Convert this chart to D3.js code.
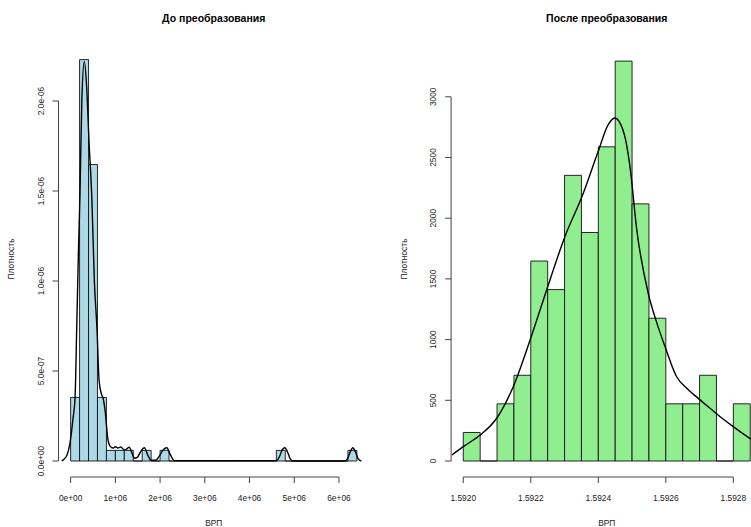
<!DOCTYPE html>
<html>
<head>
<meta charset="utf-8">
<script src="https://cdn.jsdelivr.net/npm/d3@7/dist/d3.min.js"></script>
<style>
  html, body { margin: 0; padding: 0; background: #fff; }
  svg { display: block; font-family: "Liberation Sans", Arial, sans-serif; }
  .tick-label { font-size: 8.4px; fill: #222; }
  .title { font-size: 10.5px; font-weight: bold; fill: #000; }
  .axis-title { font-size: 8.4px; fill: #222; }
</style>
</head>
<body>
<svg id="chart" width="751" height="527"></svg>
<script>
// --- left panel: raw values (ВРП), bin width 2e5 ---
const leftBinStart = 0;
const leftBinWidth = 200000;
const leftDensity = [
  0.353e-6, 2.23e-6, 1.647e-6, 0.353e-6, 0.059e-6, 0.059e-6, 0.059e-6, 0,
  0.059e-6, 0, 0.059e-6, 0, 0, 0, 0, 0,
  0, 0, 0, 0, 0, 0, 0, 0.059e-6,
  0, 0, 0, 0, 0, 0, 0, 0.059e-6
];
// density curve: [x, density]
const leftCurveX = [
  -200000, -150000, -80000, -15000, 50000, 100000, 135000, 175000, 210000, 250000,
  305000, 355000, 410000, 475000, 530000, 590000, 635000, 690000, 725000, 770000,
  835000, 880000, 950000, 1000000, 1060000, 1120000, 1200000, 1250000, 1310000, 1370000,
  1430000, 1490000, 1560000, 1647000, 1730000, 1800000, 1900000, 1990000, 2070000, 2150000,
  2230000, 2320000, 4600000, 4670000, 4730000, 4790000, 4850000, 4910000, 4980000, 6120000,
  6190000, 6250000, 6310000, 6370000, 6430000, 6500000
];
const leftCurveY = [
  0, 0.01e-6, 0.033e-6, 0.10e-6, 0.23e-6, 0.36e-6, 0.73e-6, 1.17e-6, 1.5e-6, 2.0e-6,
  2.22e-6, 2.09e-6, 1.78e-6, 1.45e-6, 1.0e-6, 0.73e-6, 0.45e-6, 0.37e-6, 0.35e-6, 0.28e-6,
  0.117e-6, 0.083e-6, 0.072e-6, 0.079e-6, 0.072e-6, 0.078e-6, 0.062e-6, 0.066e-6, 0.077e-6, 0.045e-6,
  0.015e-6, 0.02e-6, 0.05e-6, 0.074e-6, 0.03e-6, 0.004e-6, 0.004e-6, 0.03e-6, 0.062e-6, 0.074e-6,
  0.035e-6, 0.002e-6, 0.002e-6, 0.025e-6, 0.062e-6, 0.074e-6, 0.05e-6, 0.012e-6, 0, 0,
  0.012e-6, 0.05e-6, 0.074e-6, 0.05e-6, 0.012e-6, 0
];
const leftXTicks = [0, 1e6, 2e6, 3e6, 4e6, 5e6, 6e6];
const leftXLabels = ["0e+00", "1e+06", "2e+06", "3e+06", "4e+06", "5e+06", "6e+06"];
const leftYTicks = [0, 0.5e-6, 1.0e-6, 1.5e-6, 2.0e-6];
const leftYLabels = ["0.0e+00", "5.0e-07", "1.0e-06", "1.5e-06", "2.0e-06"];

// --- right panel: transformed values, bin width 0.00005 ---
const rightBinStart = 1.5920;
const rightBinWidth = 0.00005;
const rightDensity = [
  235, 0, 471, 706, 1647, 1412, 2353, 1882, 2588, 3294, 2118, 1176, 471, 471, 706, 0, 471
];
const rightCurveX = [
  1.591966, 1.5920, 1.59205, 1.592099, 1.592148, 1.592198, 1.592247, 1.592301, 1.592352, 1.592399,
  1.592429, 1.592449, 1.592476, 1.592494, 1.592514, 1.592548, 1.592573, 1.592598, 1.592632, 1.592662,
  1.592696, 1.592731, 1.592761, 1.5928, 1.592849, 1.592884
];
const rightCurveY = [
  49, 118, 214, 352, 612, 997, 1409, 1848, 2180, 2545,
  2768, 2825, 2700, 2420, 1903, 1380, 1140, 940, 694, 599,
  516, 434, 365, 283, 187, 130
];
const rightXTicks = [1.5920, 1.5922, 1.5924, 1.5926, 1.5928];
const rightXLabels = ["1.5920", "1.5922", "1.5924", "1.5926", "1.5928"];
const rightYTicks = [0, 500, 1000, 1500, 2000, 2500, 3000];
const rightYLabels = ["0", "500", "1000", "1500", "2000", "2500", "3000"];

const svg = d3.select("#chart");

function drawPanel(o) {
  const g = svg.append("g");
  const x = d3.scaleLinear().domain(o.xDomain).range(o.xRange);
  const y = d3.scaleLinear().domain([0, o.yTicks[o.yTicks.length - 1]]).range([461, o.yTop]);
  const plotBottom = 477;
  const plotTop = 40;
  const clipId = "clip-" + o.id;
  svg.append("clipPath").attr("id", clipId).append("rect")
    .attr("x", o.xRange[0]).attr("y", plotTop)
    .attr("width", o.xRange[1] - o.xRange[0]).attr("height", plotBottom - plotTop);

  // bars (paths so empty bins still draw their base line)
  g.append("g").selectAll("path").data(o.density).enter().append("path")
    .attr("d", function (d, i) {
      const x0 = x(o.binStart + i * o.binWidth), x1 = x(o.binStart + (i + 1) * o.binWidth);
      const y0 = y(0), y1 = y(d);
      return "M" + x0 + "," + y0 + "V" + y1 + "H" + x1 + "V" + y0 + "Z";
    })
    .attr("fill", o.fill).attr("stroke", "#111").attr("stroke-width", 0.9);

  // density curve
  const pts = o.curveX.map(function (v, i) { return [v, o.curveY[i]]; });
  const line = d3.line().x(function (d) { return x(d[0]); }).y(function (d) { return y(d[1]); })
    .curve(d3.curveMonotoneX);
  g.append("path").datum(pts).attr("d", line).attr("clip-path", "url(#" + clipId + ")")
    .attr("fill", "none").attr("stroke", "#000").attr("stroke-width", 1.4);

  // x axis (R style)
  const ax = o.xTicks;
  const ay = plotBottom;
  g.append("line").attr("x1", x(ax[0])).attr("x2", x(ax[ax.length - 1]))
    .attr("y1", ay).attr("y2", ay).attr("stroke", "#444");
  g.selectAll(".xt").data(ax).enter().append("line")
    .attr("x1", function (d) { return x(d); }).attr("x2", function (d) { return x(d); })
    .attr("y1", ay).attr("y2", ay + 6).attr("stroke", "#444");
  g.selectAll(".xl").data(ax).enter().append("text").attr("class", "tick-label")
    .attr("x", function (d) { return x(d); }).attr("y", 501)
    .attr("text-anchor", "middle").text(function (d, i) { return o.xLabels[i]; });

  // y axis
  const yx = o.xRange[0] - 0.7;
  const yt = o.yTicks;
  g.append("line").attr("x1", yx).attr("x2", yx)
    .attr("y1", y(yt[0])).attr("y2", y(yt[yt.length - 1])).attr("stroke", "#444");
  g.selectAll(".yt").data(yt).enter().append("line")
    .attr("x1", yx - 6).attr("x2", yx)
    .attr("y1", function (d) { return y(d); }).attr("y2", function (d) { return y(d); })
    .attr("stroke", "#444");
  g.selectAll(".yl").data(yt).enter().append("text").attr("class", "tick-label")
    .attr("transform", function (d) { return "translate(" + (yx - 15) + "," + y(d) + ") rotate(-90)"; })
    .attr("text-anchor", "middle").text(function (d, i) { return o.yLabels[i]; });

  // titles
  const cx = (o.xRange[0] + o.xRange[1]) / 2;
  g.append("text").attr("class", "title").attr("x", cx).attr("y", 22)
    .attr("text-anchor", "middle").text(o.title);
  g.append("text").attr("class", "axis-title").attr("x", cx).attr("y", 526)
    .attr("text-anchor", "middle").text("ВРП");
  g.append("text").attr("class", "axis-title")
    .attr("transform", "translate(" + (o.xRange[0] - 45) + "," + 259 + ") rotate(-90)")
    .attr("text-anchor", "middle").text("Плотность");
}

drawPanel({
  id: "left", title: "До преобразования",
  xDomain: [-256000, 6656000], xRange: [59.2, 368.3],
  yTop: 101, binStart: leftBinStart, binWidth: leftBinWidth, density: leftDensity,
  curveX: leftCurveX, curveY: leftCurveY, fill: "#add8e6",
  xTicks: leftXTicks, xLabels: leftXLabels, yTicks: leftYTicks, yLabels: leftYLabels
});
drawPanel({
  id: "right", title: "После преобразования",
  xDomain: [1.591966, 1.592884], xRange: [451.8, 761.7],
  yTop: 96.8, binStart: rightBinStart, binWidth: rightBinWidth, density: rightDensity,
  curveX: rightCurveX, curveY: rightCurveY, fill: "#90ee90",
  xTicks: rightXTicks, xLabels: rightXLabels, yTicks: rightYTicks, yLabels: rightYLabels
});
</script>
</body>
</html>
